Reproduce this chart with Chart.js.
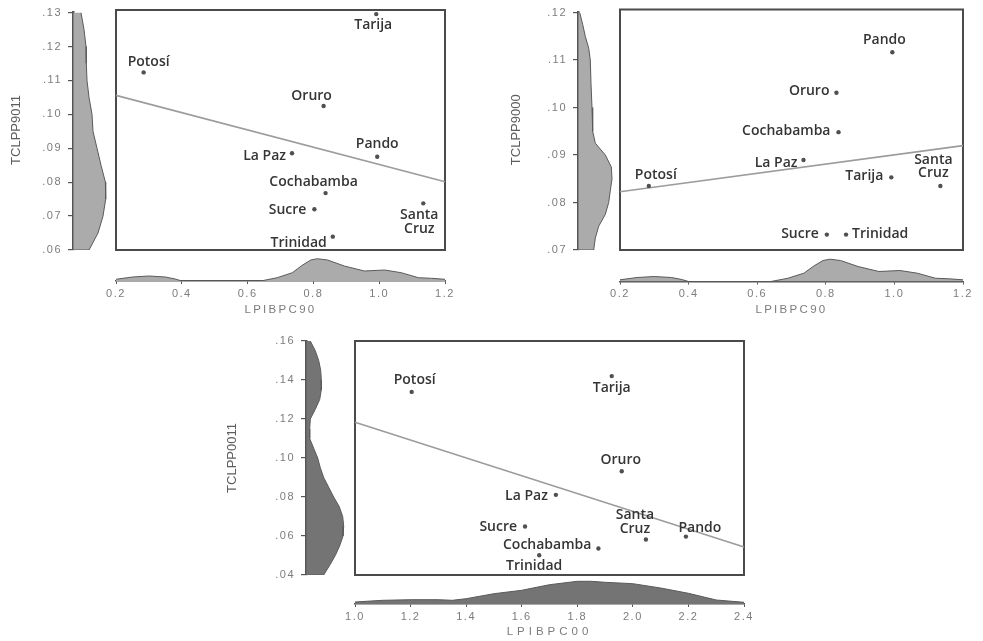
<!DOCTYPE html>
<html><head><meta charset="utf-8">
<script src="https://cdn.jsdelivr.net/npm/chart.js@4.4.1/dist/chart.umd.min.js"></script>
<style>
html,body{margin:0;padding:0;background:#fff;width:983px;height:641px;overflow:hidden}
canvas{position:absolute;left:0;top:0}
</style></head><body>
<script>
// ---------- data ----------
const regions   = ['Potosí','Tarija','Oruro','Pando','La Paz','Cochabamba','Sucre','Trinidad','Santa Cruz'];
const lpibpc90  = [0.284, 0.991, 0.831, 0.994, 0.735, 0.837, 0.803, 0.859, 1.134];
const tclpp9011 = [0.1118, 0.1288, 0.1020, 0.0872, 0.0882, 0.0766, 0.0719, 0.0639, 0.0736];
const tclpp9000 = [0.0833, 0.0851, 0.1027, 0.1111, 0.0887, 0.0945, 0.0732, 0.0732, 0.0833];
const lpibpc00  = [1.204, 1.924, 1.960, 2.191, 1.723, 1.876, 1.612, 1.663, 2.047];
const tclpp0011 = [0.1339, 0.1420, 0.0932, 0.0597, 0.0811, 0.0536, 0.0649, 0.0501, 0.0582];

// fitted lines (end values)
const fit1X = [0.2, 1.2], fit1Y = [0.1051, 0.0799];
const fit2X = [0.2, 1.2], fit2Y = [0.0821, 0.0917];
const fit3X = [1.0, 2.4], fit3Y = [0.1183, 0.0544];

// marginal densities (relative units)
const dens90X  = [0.2, 0.25, 0.3, 0.35, 0.38, 0.4, 0.64, 0.69, 0.736, 0.766, 0.792, 0.812, 0.843, 0.894, 0.955, 1.016, 1.067, 1.119, 1.159, 1.2];
const dens90   = [1.7, 4, 5, 4, 2, 0, 0, 3.3, 8.3, 15.7, 21, 22.3, 21, 15, 10, 11, 8.3, 3.3, 2.7, 1.7];
const dens00X  = [1.0, 1.1, 1.2, 1.3, 1.35, 1.4, 1.5, 1.6, 1.7, 1.8, 1.85, 1.9, 2.0, 2.1, 2.2, 2.3, 2.4];
const dens00   = [2, 3.7, 4.3, 4.3, 3.7, 5.3, 10.3, 13.7, 19.3, 22.7, 22.7, 21.7, 20.3, 16, 10.7, 4, 1.7];
const d9011Y   = [0.13, 0.125, 0.12, 0.115, 0.11, 0.105, 0.10, 0.095, 0.09, 0.085, 0.08, 0.075, 0.07, 0.065, 0.06];
const d9011    = [8, 11, 13, 13.3, 14, 16, 19, 20, 24, 28, 32.4, 32.7, 30, 25, 16];
const d9000Y   = [0.12, 0.1175, 0.115, 0.1125, 0.11, 0.105, 0.10, 0.095, 0.0925, 0.09, 0.0875, 0.085, 0.0825, 0.08, 0.0775, 0.075, 0.0725, 0.07];
const d9000    = [1.7, 4.7, 7.3, 10.7, 12.3, 13, 14, 14.7, 17.3, 27.3, 33.3, 34, 32.3, 30.7, 27.3, 20.7, 17.3, 15.7];
const d0011Y   = [0.16, 0.155, 0.15, 0.145, 0.14, 0.135, 0.13, 0.125, 0.12, 0.115, 0.11, 0.105, 0.10, 0.095, 0.09, 0.085, 0.08, 0.075, 0.07, 0.065, 0.06, 0.055, 0.05, 0.045, 0.04];
const d0011    = [4.3, 9.3, 12.7, 14.7, 15.3, 15.3, 13.7, 9.3, 4.3, 3.7, 3.7, 7.7, 11.7, 14.3, 17.7, 22.7, 27.7, 33.3, 36.7, 37.7, 37, 33.7, 29.3, 23.7, 17.7];

// ---------- setup ----------
Chart.defaults.animation = false;
Chart.defaults.responsive = false;
Chart.defaults.devicePixelRatio = 1;
Chart.defaults.plugins.legend.display = false;
Chart.defaults.plugins.tooltip.enabled = false;

const W = 983, H = 641;
function newCanvas(){ const c = document.createElement('canvas'); c.width = W; c.height = H; document.body.appendChild(c); return c; }

const boxPlugin = { id:'box', beforeDatasetsDraw(chart, a, o){
  const {left, top, right, bottom} = chart.chartArea; const ctx = chart.ctx;
  ctx.save(); ctx.strokeStyle = o.color; ctx.lineWidth = o.width;
  ctx.strokeRect(left, top, right-left, bottom-top); ctx.restore(); } };

const labelPlugin = { id:'ptlabels', afterDatasetsDraw(chart, a, o){
  const meta = chart.getDatasetMeta(0); const ctx = chart.ctx;
  ctx.save(); ctx.font = o.font; ctx.fillStyle = o.color; ctx.textBaseline = 'middle';
  meta.data.forEach((el, i) => {
    const p = o.place[i];
    const lines = p.wrap ? o.names[i].split(' ') : [o.names[i]];
    ctx.textAlign = p.al === 'l' ? 'right' : (p.al === 'r' ? 'left' : 'center');
    lines.forEach((t, j) => ctx.fillText(t, el.x + p.dx, el.y + p.dy + j*o.lh));
  });
  ctx.restore(); } };

const spacingPlugin = { id:'spacing',
  beforeDraw(chart, a, o){ chart.ctx.letterSpacing = o.title; },
  afterDatasetsDraw(chart, a, o){ chart.ctx.letterSpacing = o.ticks; },
  afterDraw(chart){ chart.ctx.letterSpacing = '0px'; } };

const tickFont = {family:"'Liberation Sans', Arial, sans-serif", size:11};
const tickColor = '#7c7c7c';
const yFmt = v => v.toFixed(2).replace(/^0/, '');

function panel(P){
  // main scatter
  const ytLH = 13*1.2;
  new Chart(newCanvas(), {
    type:'scatter',
    data:{datasets:[
      {data:P.x.map((v,i)=>({x:v, y:P.y[i]})), pointRadius:2.2, pointBackgroundColor:'#505050', pointBorderWidth:0, clip:false},
      {data:P.fx.map((v,i)=>({x:v, y:P.fy[i]})), showLine:true, pointRadius:0, borderColor:'#9c9c9c', borderWidth:1.6, clip:false}
    ]},
    options:{
      layout:{padding:{left:P.ytX - ytLH/2, top:P.box.t, right:W-P.box.r, bottom:H-P.box.b}},
      scales:{
        x:{type:'linear', min:P.xMin, max:P.xMax, display:false},
        y:{type:'linear', min:P.yMin, max:P.yMax, position:'left',
           ticks:{display:false}, grid:{display:false}, border:{display:false},
           title:{display:true, text:P.yTitle, color:'#5e5e5e', padding:0,
                  font:{family:"'Liberation Sans Narrow', 'Liberation Sans', Arial, sans-serif", size:13}},
           afterFit:s=>{ s.width = P.box.l - (P.ytX - ytLH/2); }}
      },
      plugins:{
        box:{color:'#4a4a4a', width:2},
        ptlabels:{names:regions, place:P.place, font:"600 14px 'Open Sans', sans-serif", color:'#353535', lh:13.4}
      }
    },
    plugins:[boxPlugin, labelPlugin]
  });

  // left marginal density
  const lp = P.dY.map((v,i)=>({x:P.dW[i], y:v}));
  lp.push({x:0, y:P.dY[P.dY.length-1]}); lp.push({x:0, y:P.dY[0]});
  new Chart(newCanvas(), {
    type:'line',
    data:{datasets:[{data:lp, fill:'shape', backgroundColor:P.fill, borderColor:'#5a5a5a', borderWidth:1, pointRadius:0, tension:0}]},
    options:{
      layout:{padding:{left:P.axX - 40, top:P.box.t, right:W-(P.axX+40), bottom:H-P.box.b}},
      scales:{
        x:{type:'linear', min:0, max:40, display:false},
        y:{type:'linear', min:P.yMin, max:P.yMax, position:'left', afterFit:s=>{ s.width = 40; },
           ticks:{stepSize:P.yStep, callback:yFmt, font:tickFont, color:tickColor, padding:6, z:1},
           grid:{drawOnChartArea:false, tickLength:5, color:'#555', lineWidth:1.2},
           border:{display:true, color:'#555', width:2.5}}
      },
      plugins:{spacing:{title:'0px', ticks:'1.5px'}}
    },
    plugins:[spacingPlugin]
  });

  // bottom marginal density
  new Chart(newCanvas(), {
    type:'line',
    data:{datasets:[{data:P.bX.map((v,i)=>({x:v, y:P.bH[i]})), fill:'origin', backgroundColor:P.fill, borderColor:'#5a5a5a', borderWidth:1, pointRadius:0, tension:0}]},
    options:{
      layout:{padding:{left:P.box.l, right:W-P.box.r, top:P.base-26, bottom:H-(P.base+P.axH)}},
      scales:{
        x:{type:'linear', min:P.xMin, max:P.xMax, position:'bottom', afterFit:s=>{ s.height = P.axH; },
           ticks:{stepSize:0.2, callback:v=>v.toFixed(1), font:tickFont, color:tickColor, padding:3, z:1, maxRotation:0, autoSkip:false},
           grid:{drawOnChartArea:false, tickLength:3, color:'#555'},
           border:{display:true, color:'#555', width:1.5},
           title:{display:true, text:P.xTitle, color:tickColor, padding:0, font:{family:"'Liberation Sans', Arial, sans-serif", size:11.5}}},
        y:{type:'linear', min:0, max:26, display:false}
      },
      plugins:{spacing:{title:P.tsp, ticks:'1.5px'}}
    },
    plugins:[spacingPlugin]
  });
}

panel({
  x:lpibpc90, y:tclpp9011, fx:fit1X, fy:fit1Y, xMin:0.2, xMax:1.2, yMin:0.06, yMax:0.13, yStep:0.01,
  box:{l:116, r:445, t:10, b:250}, axX:73, ytX:16, base:281, axH:35.9,
  xTitle:'LPIBPC90', yTitle:'TCLPP9011', fill:'#ababab', tsp:'2.3px',
  dY:d9011Y, dW:d9011, bX:dens90X, bH:dens90,
  place:[{al:'c',dx:5,dy:-10},{al:'c',dx:-3,dy:11},{al:'c',dx:-12,dy:-10},{al:'c',dx:0,dy:-13},
         {al:'l',dx:-6,dy:3},{al:'c',dx:-12,dy:-11},{al:'l',dx:-8,dy:1},{al:'l',dx:-6,dy:6},{al:'c',dx:-4,dy:12,wrap:true}]
});
panel({
  x:lpibpc90, y:tclpp9000, fx:fit2X, fy:fit2Y, xMin:0.2, xMax:1.2, yMin:0.07, yMax:0.12, yStep:0.01,
  box:{l:620, r:963, t:9.5, b:250}, axX:578, ytX:516, base:281.5, axH:35.4,
  xTitle:'LPIBPC90', yTitle:'TCLPP9000', fill:'#ababab', tsp:'2.3px',
  dY:d9000Y, dW:d9000, bX:dens90X, bH:dens90,
  place:[{al:'c',dx:7,dy:-11},{al:'l',dx:-8,dy:-1},{al:'l',dx:-7,dy:-2},{al:'c',dx:-8,dy:-12},
         {al:'l',dx:-6,dy:3},{al:'l',dx:-8,dy:-1},{al:'l',dx:-8,dy:-1},{al:'r',dx:6,dy:-1},{al:'c',dx:-7,dy:-26,wrap:true}]
});
panel({
  x:lpibpc00, y:tclpp0011, fx:fit3X, fy:fit3Y, xMin:1.0, xMax:2.4, yMin:0.04, yMax:0.16, yStep:0.02,
  box:{l:355, r:744, t:341, b:575}, axX:306, ytX:232, base:604, axH:34.9,
  xTitle:'LPIBPC00', yTitle:'TCLPP0011', fill:'#747474', tsp:'4px',
  dY:d0011Y, dW:d0011, bX:dens00X, bH:dens00,
  place:[{al:'c',dx:3,dy:-12},{al:'c',dx:0,dy:12},{al:'c',dx:-1,dy:-11},{al:'c',dx:14,dy:-9},
         {al:'l',dx:-8,dy:1},{al:'l',dx:-7,dy:-3},{al:'l',dx:-8,dy:1},{al:'c',dx:-5,dy:11},{al:'c',dx:-11,dy:-24,wrap:true}]
});
</script>
</body></html>
